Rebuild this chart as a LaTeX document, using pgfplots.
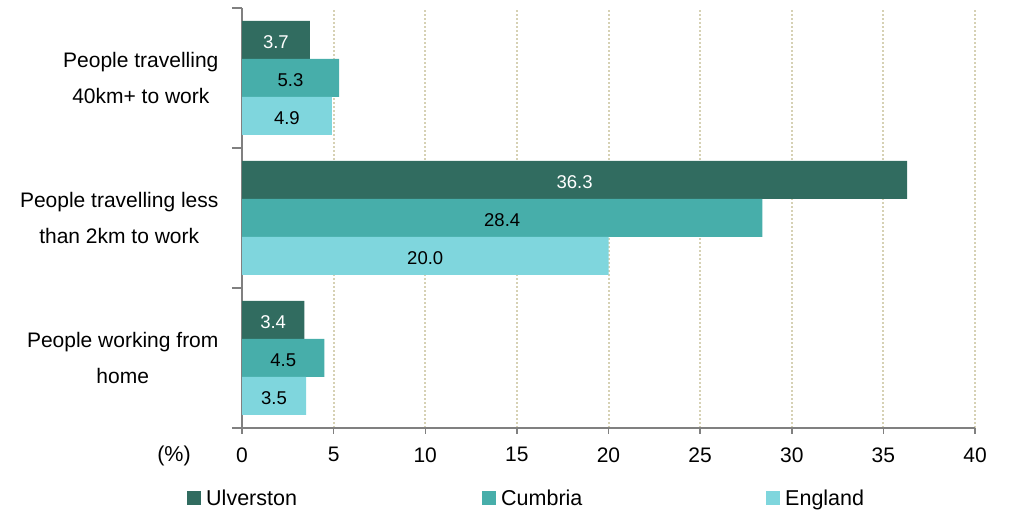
\documentclass[border=0pt]{standalone}
\usepackage{fontspec}
\setmainfont{Liberation Sans}
\usepackage{pgfplots}
\pgfplotsset{compat=1.18}
\definecolor{cU}{RGB}{49,108,96}
\definecolor{cC}{RGB}{71,174,170}
\definecolor{cE}{RGB}{127,214,221}
\definecolor{gridc}{RGB}{214,209,180}
\definecolor{axc}{RGB}{128,128,128}
\begin{document}
\begin{tikzpicture}[font=\fontsize{21.5}{24}\selectfont]
\useasboundingbox (0,0) rectangle (1009pt,510pt);
\begin{axis}[
  at={(242pt,82pt)}, anchor=south west,
  scale only axis, width=733pt, height=420pt,
  xmin=0, xmax=40, ymin=-0.5, ymax=2.5,
  xtick={0,5,...,40},
  ytick={0,1,2},
  yticklabels={{People working from\\home},{People travelling less\\than 2km to work},{People travelling\\40km+ to work}},
  minor ytick={-0.5,0.5,1.5,2.5},
  axis x line*=bottom, axis y line*=left,
  axis line style={draw=axc, line width=1.5pt},
  every tick/.append style={draw=axc, line width=1.5pt},
  every major y tick/.append style={draw=none},
  tick align=outside, major tick length=6pt, minor tick length=10pt,
  xmajorgrids,
  major x grid style={draw=gridc, line width=2pt, dash pattern=on 2pt off 2pt},
  /pgf/number format/assume math mode=true,
  xticklabel style={font=\fontsize{21}{24}\selectfont, yshift=-10pt},
  yticklabel style={align=center, font=\fontsize{21}{36}\selectfont, xshift=-14pt},
  legend columns=3,
  legend cell align=left,
  legend style={draw=none, fill=none, at={(-0.075,-0.1667)}, anchor=west, inner sep=0pt,
    font=\fontsize{21.5}{24}\selectfont,
    nodes={inner sep=0pt}, /tikz/every odd column/.append style={column sep=5pt}},
  legend image code/.code={\fill[#1] (0pt,-7pt) rectangle (14pt,7pt);},
  bar width=38pt,
]
\addplot[xbar, fill=cU, draw=none, bar shift=38pt] coordinates {(3.4,0) (36.3,1) (3.7,2)};
\addlegendentry[text width=276pt]{Ulverston}
\addplot[xbar, fill=cC, draw=none, bar shift=0pt] coordinates {(4.5,0) (28.4,1) (5.3,2)};
\addlegendentry[text width=265pt]{Cumbria}
\addplot[xbar, fill=cE, draw=none, bar shift=-38pt] coordinates {(3.5,0) (20.0,1) (4.9,2)};
\addlegendentry{England}

\addplot[forget plot, only marks, mark=*, mark size=0pt, mark options={draw=none, fill=none},
  nodes near coords, point meta=explicit symbolic,
  every node near coord/.append style={anchor=center, text=white, yshift=-2pt, font=\fontsize{18.5}{20}\selectfont}]
  table[meta=lab] {
x y lab
1.7 0.2714 3.4
18.15 1.2714 36.3
1.85 2.2714 3.7
};
\addplot[forget plot, only marks, mark=*, mark size=0pt, mark options={draw=none, fill=none},
  nodes near coords, point meta=explicit symbolic,
  every node near coord/.append style={anchor=center, text=black, yshift=-2pt, font=\fontsize{18.5}{20}\selectfont}]
  table[meta=lab] {
x y lab
2.25 0 4.5
14.2 1 28.4
2.65 2 5.3
1.75 -0.2714 3.5
10.0 0.7286 20.0
2.45 1.7286 4.9
};
\end{axis}
\node[anchor=base] at (174pt,48pt) {(\%)};
\end{tikzpicture}
\end{document}
